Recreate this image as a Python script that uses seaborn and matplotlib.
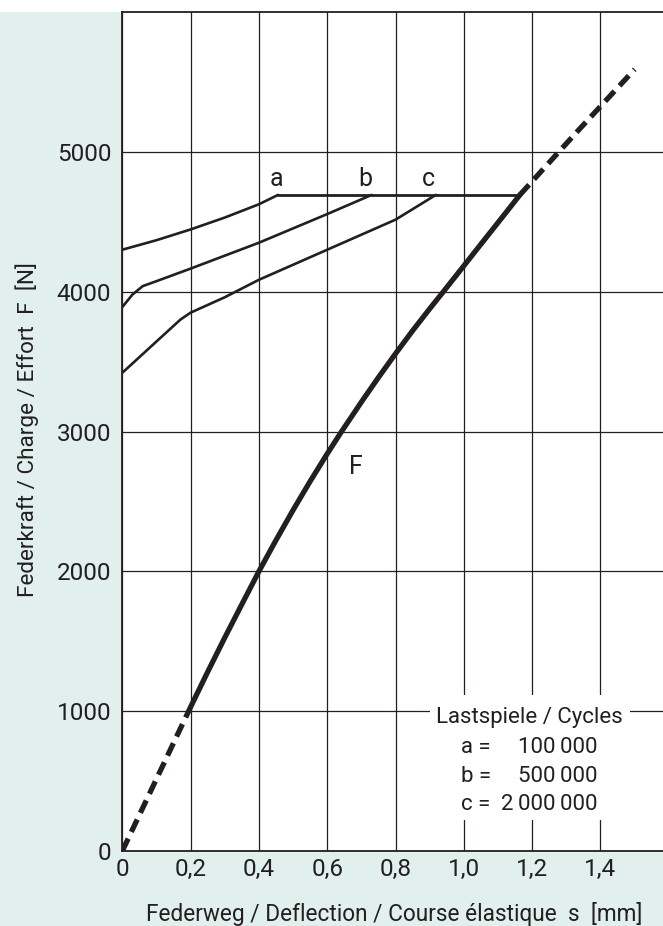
import numpy as np
import pandas as pd
import matplotlib
matplotlib.use("Agg")
import matplotlib.pyplot as plt
from matplotlib.patches import Rectangle
import seaborn as sns

# curve F (spring characteristic)
f_dash_lo_x = [0.0, 0.2]
f_dash_lo_y = [0, 1030]
f_x = [0.2, 0.25, 0.3, 0.35, 0.4, 0.45, 0.5, 0.55, 0.6, 0.642, 0.7, 0.75,
       0.8, 0.85, 0.9, 0.94, 1.0, 1.05, 1.1, 1.164]
f_y = [1030, 1281, 1526, 1764, 2000, 2223, 2438, 2644, 2841, 3000, 3211, 3387,
       3557, 3721, 3878, 4000, 4185, 4340, 4494, 4692]
f_dash_hi_x = [1.164, 1.33, 1.5]
f_dash_hi_y = [4692, 5140, 5590]

# fatigue limit curves a, b, c
a_x = [0.0, 0.1, 0.2, 0.3, 0.4, 0.456]
a_y = [4300, 4368, 4445, 4530, 4625, 4692]
b_x = [0.0, 0.03, 0.06, 0.1, 0.2, 0.4, 0.6, 0.73]
b_y = [3890, 3980, 4040, 4075, 4165, 4350, 4555, 4692]
c_x = [0.0, 0.17, 0.2, 0.25, 0.3, 0.4, 0.6, 0.8, 0.918]
c_y = [3420, 3800, 3850, 3905, 3960, 4085, 4300, 4515, 4692]
top_x = [0.456, 1.164]
top_y = [4692, 4692]

curve_labels = ["a", "b", "c"]
curve_label_x = [0.452, 0.711, 0.895]
cycles = ["100\u2009000", "500\u2009000", "2\u2009000\u2009000"]

x_ticks = [0, 0.2, 0.4, 0.6, 0.8, 1.0, 1.2, 1.4]
x_ticklabels = ["0", "0,2", "0,4", "0,6", "0,8", "1,0", "1,2", "1,4"]
y_ticks = [0, 1000, 2000, 3000, 4000, 5000]

sns.set_style("white")
plt.rcParams["font.family"] = ["Roboto", "DejaVu Sans"]

mint = "#e1f0ed"
ink = "#231f20"

fig = plt.figure(figsize=(6.63, 9.26), dpi=100)
fig.patches.append(Rectangle((0, 0), 1, 1 - 12 / 926, transform=fig.transFigure,
                             facecolor=mint, edgecolor="none", zorder=-1))
ax = fig.add_axes([122.3 / 663, 75 / 926, 1 - 122.3 / 663, (851 - 12) / 926])
ax.set_facecolor("white")


def draw(xs, ys, lw, dashed=False):
    d = pd.DataFrame({"s": xs, "F": ys})
    sns.lineplot(data=d, x="s", y="F", ax=ax, color=ink, lw=lw,
                 sort=False, estimator=None, zorder=3)
    ln = ax.lines[-1]
    ln.set_solid_joinstyle("round")
    if dashed:
        ln.set_dashes([2.6, 1.4])
        ln.set_dash_capstyle("butt")


draw(f_dash_lo_x, f_dash_lo_y, 3.8, dashed=True)
draw(f_x, f_y, 3.8)
draw(f_dash_hi_x, f_dash_hi_y, 3.8, dashed=True)
draw(a_x, a_y, 1.9)
draw(b_x, b_y, 1.9)
draw(c_x, c_y, 1.9)
draw(top_x, top_y, 2.0)

for lab, lx in zip(curve_labels, curve_label_x):
    ax.text(lx, 4757, lab, ha="center", va="baseline", fontsize=18, color=ink)
ax.text(0.684, 2747, "F", ha="center", va="center", fontsize=18, color=ink)

# legend box for load cycles
ax.add_patch(Rectangle((0.901, 222), 0.586, 894, facecolor="white",
                       edgecolor="none", zorder=2))
ax.text(1.191, 916, "Lastspiele / Cycles", ha="center", va="baseline",
        fontsize=16, color=ink, zorder=4)
for lab, n, yy in zip(curve_labels, cycles, [701, 494, 293]):
    ax.text(0.993, yy, lab + " =", ha="left", va="baseline", fontsize=16, color=ink, zorder=4)
    ax.text(1.392, yy, n, ha="right", va="baseline", fontsize=16, color=ink, zorder=4)

ax.set_xlim(0, 1.583)
ax.set_ylim(0, 6000)
ax.set_xticks(x_ticks)
ax.set_xticklabels(x_ticklabels)
ax.set_yticks(y_ticks)
ax.tick_params(length=0, labelsize=17.5, colors=ink)
ax.tick_params(axis="x", pad=5)
ax.tick_params(axis="y", pad=8)
ax.grid(True, color=ink, lw=0.9)
ax.set_axisbelow(True)
for side in ["left", "bottom", "top"]:
    ax.spines[side].set_color(ink)
    ax.spines[side].set_linewidth(1.3)
ax.spines["right"].set_visible(False)

ax.set_xlabel("Federweg / Deflection / Course élastique  s  [mm]", fontsize=16.3, color=ink)
ax.xaxis.set_label_coords(0.043, -0.0834)
ax.xaxis.label.set_ha("left")
ax.xaxis.label.set_va("baseline")
ax.set_ylabel("Federkraft / Charge / Effort  F  [N]", fontsize=16.2, color=ink)
ax.yaxis.set_label_coords(-0.176, 0.502)
ax.yaxis.label.set_va("center")

fig.savefig("out.png", dpi=100, facecolor="white")
